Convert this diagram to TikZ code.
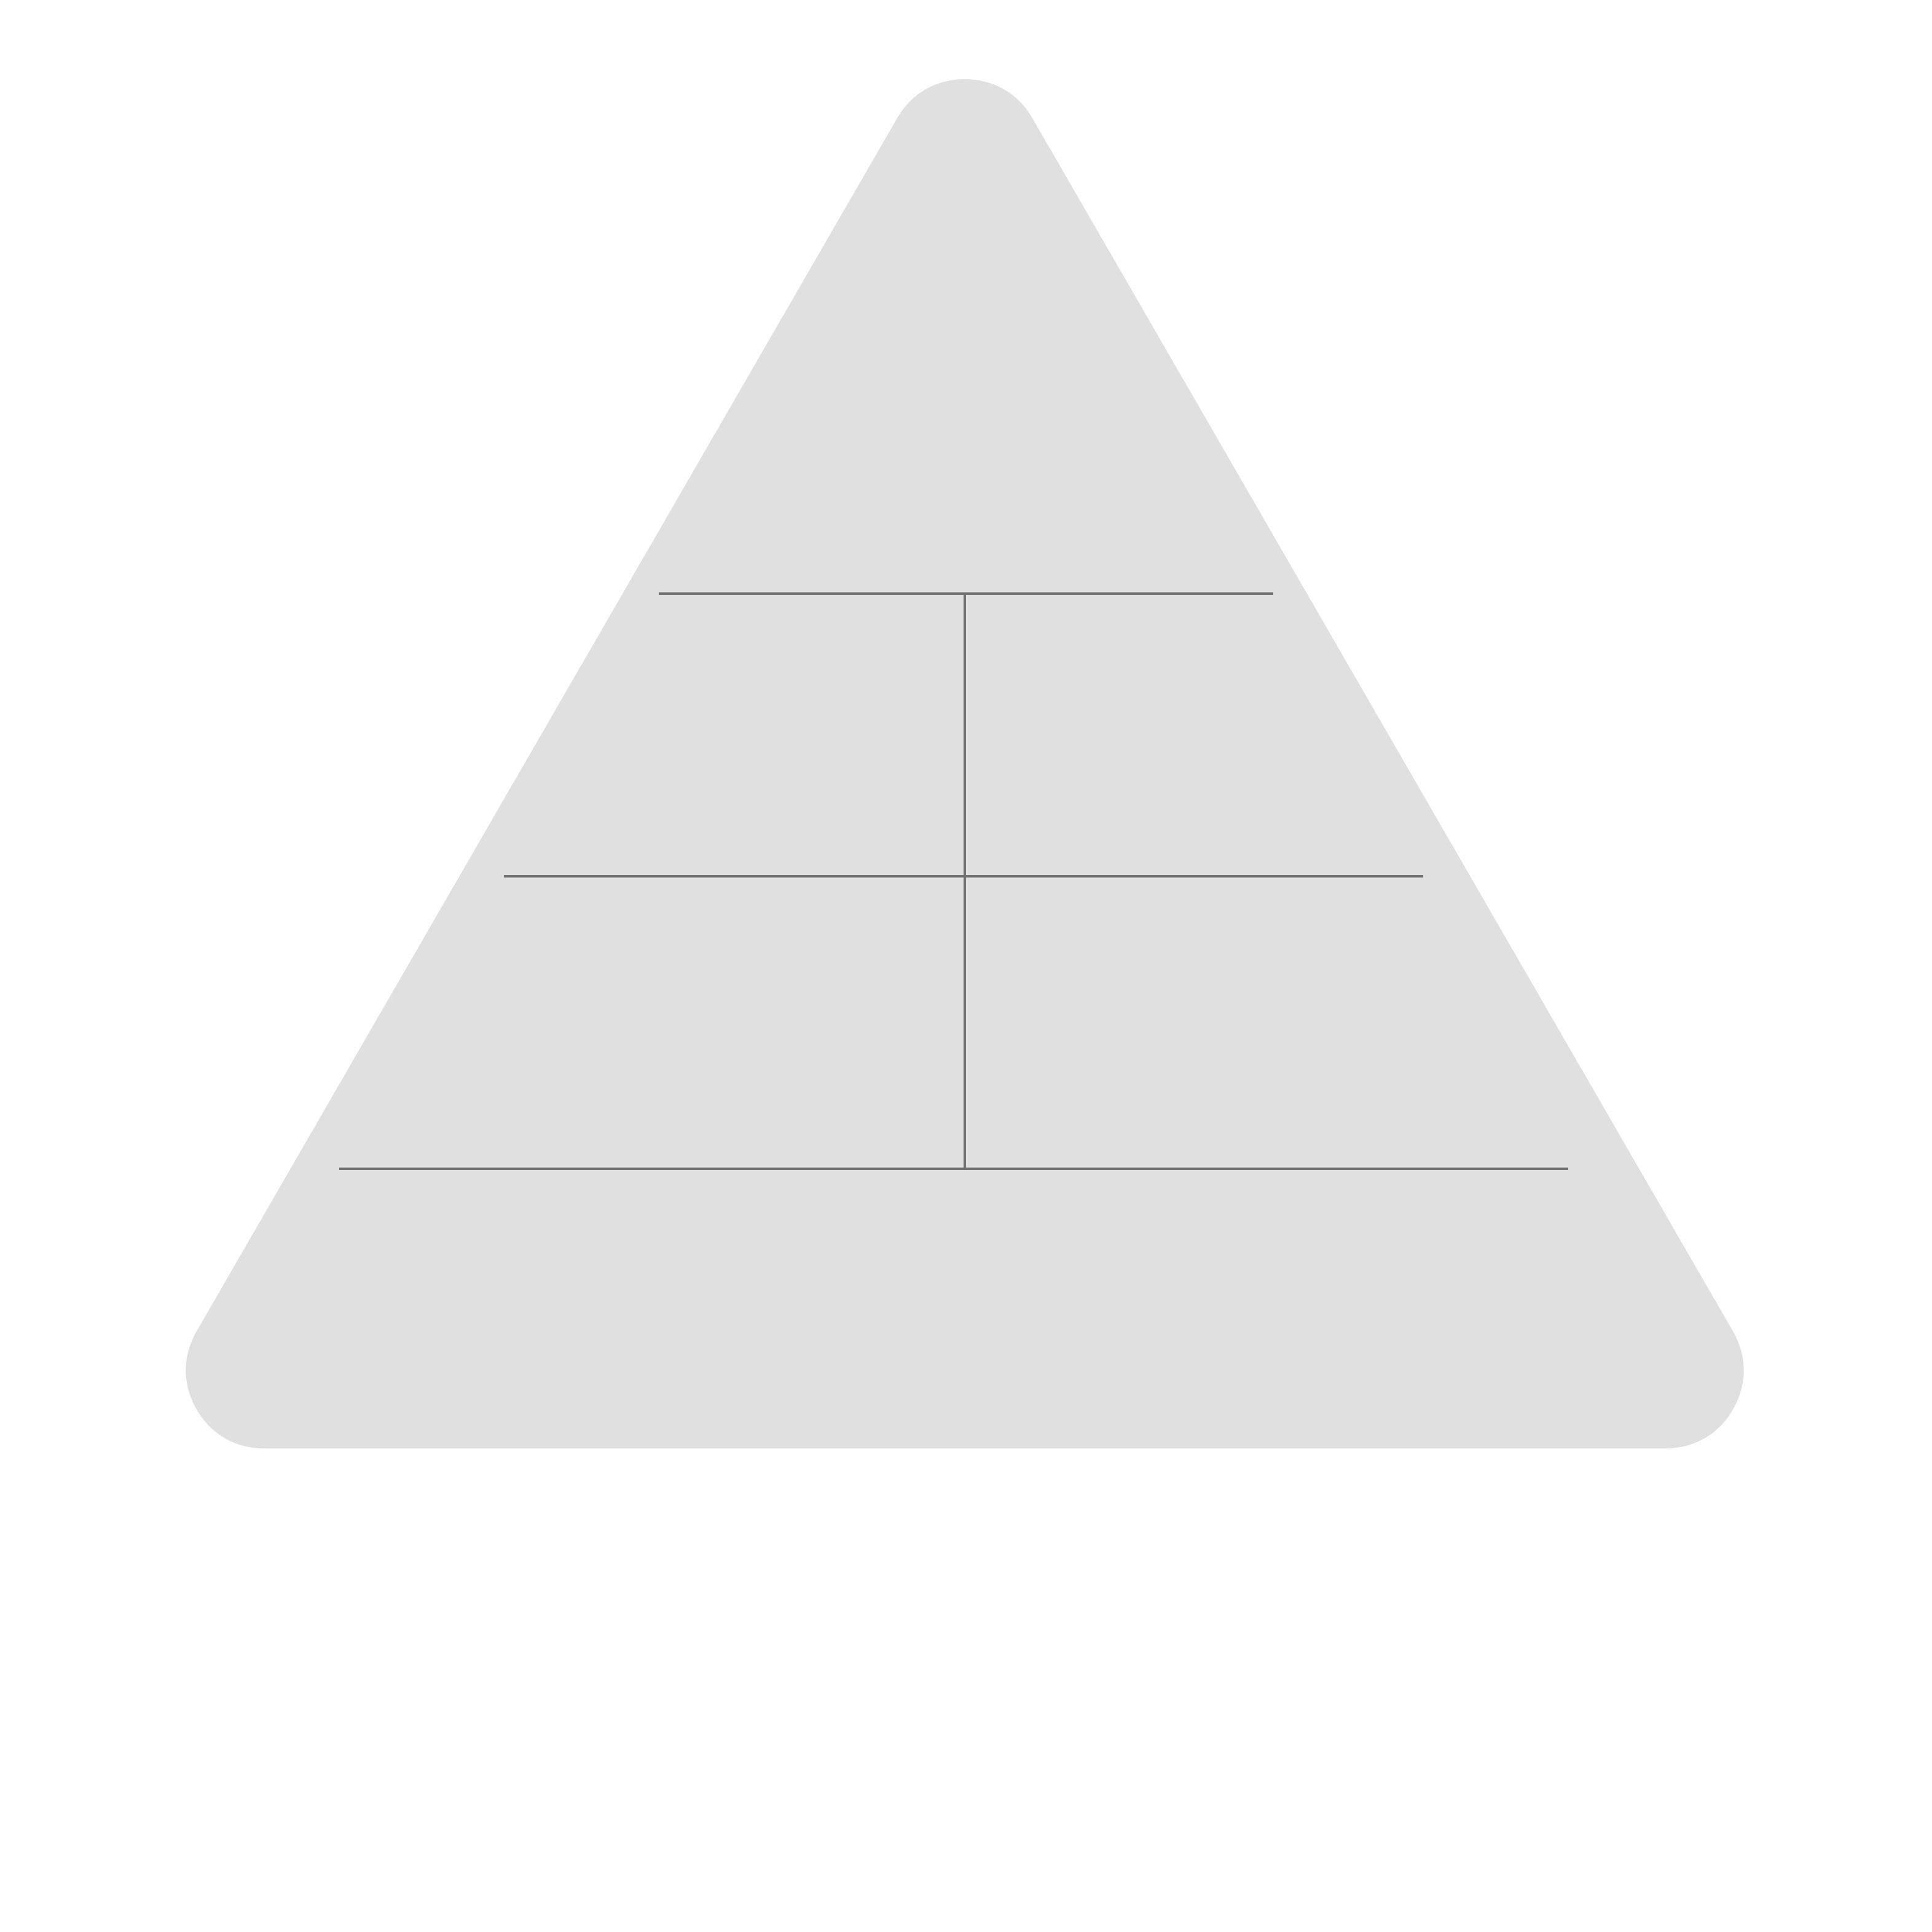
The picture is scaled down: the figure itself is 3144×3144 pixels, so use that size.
\documentclass[tikz,border=0pt]{standalone}
\usepackage{tikz}
\definecolor{pyrfill}{RGB}{224,224,224}
\definecolor{tierline}{RGB}{115,115,115}
\tikzset{
  pyr/.style={fill=pyrfill,draw=pyrfill,line width=2.54cm,line join=round},
  tier/.style={draw=tierline,line width=0.04cm},
}
\begin{document}
\begin{tikzpicture}[x=0.01cm,y=-0.01cm]
  \useasboundingbox (0,0) rectangle (3144,3144);
  \filldraw[pyr] (1570,256) -- (2710,2230) -- (430,2230) -- cycle;
  \coordinate (t1l) at (1072,966);
  \coordinate (t1r) at (2072,966);
  \coordinate (t2l) at (820,1426);
  \coordinate (t2r) at (2316,1426);
  \coordinate (t3l) at (552,1902);
  \coordinate (t3r) at (2552,1902);
  \coordinate (top) at (1570,966);
  \coordinate (bot) at (1570,1902);
  \draw[tier] (t1l) -- (t1r);
  \draw[tier] (t2l) -- (t2r);
  \draw[tier] (t3l) -- (t3r);
  \draw[tier] (top) -- (bot);
\end{tikzpicture}
\end{document}
